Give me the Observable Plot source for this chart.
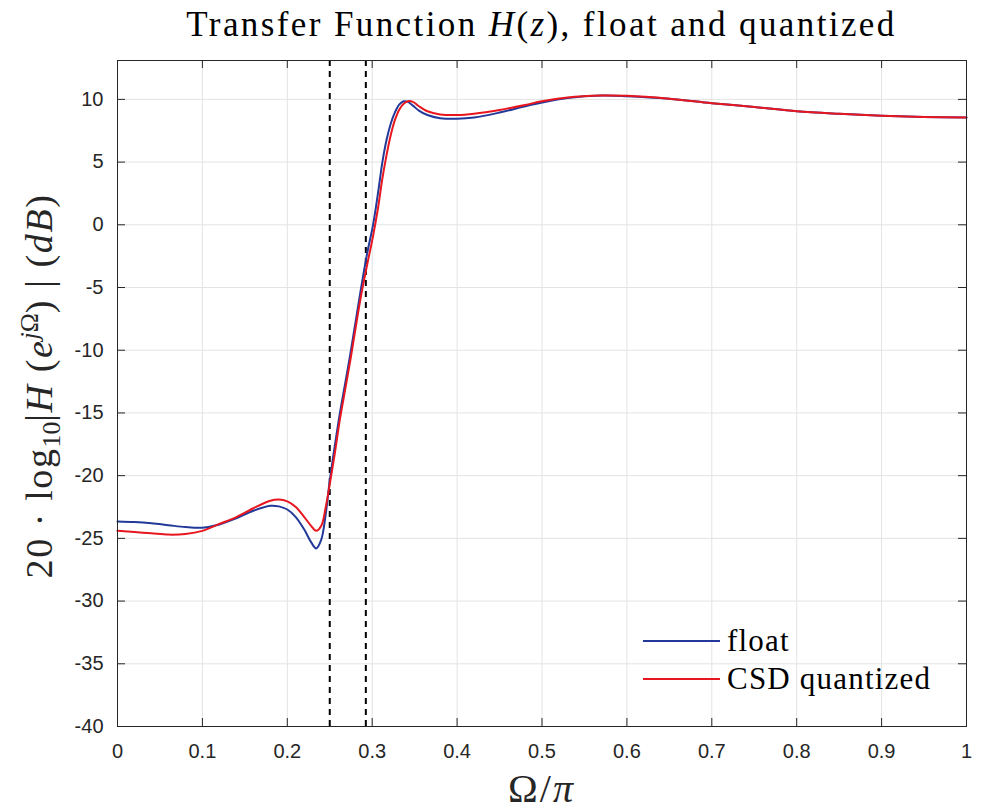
<!DOCTYPE html>
<html><head><meta charset="utf-8">
<script src="https://cdn.jsdelivr.net/npm/d3@7"></script>
<script src="https://cdn.jsdelivr.net/npm/@observablehq/plot@0.6"></script>
<style>
body{margin:0;background:#fff;}
#wrap{position:relative;width:981px;height:812px;overflow:hidden;background:#fff}
#title{position:absolute;left:117px;width:849px;top:5px;text-align:center;font-family:"Liberation Serif","DejaVu Serif",serif;font-size:35px;letter-spacing:2.4px;color:#000;white-space:nowrap;line-height:40px}
#ylab{position:absolute;left:41px;top:386px;transform:translate(-50%,-50%) rotate(-90deg);font-family:"Liberation Serif",serif;font-size:38px;letter-spacing:1.6px;color:#262626;white-space:nowrap;line-height:44px}
#xlab{position:absolute;left:117px;width:849px;top:767px;text-align:center;font-family:"Liberation Serif",serif;font-size:40px;letter-spacing:2px;color:#262626;line-height:44px}
.leg{position:absolute;left:643px;font-family:"Liberation Serif",serif;font-size:31px;letter-spacing:1.2px;color:#000;white-space:nowrap;line-height:32px;display:flex;align-items:center}
.leg span.s{display:inline-block;width:77px;height:0;border-top:2px solid;margin-right:7px}
sub,sup{font-size:68%;letter-spacing:0}
</style>
</head><body>
<div id="wrap">
<div id="chart"></div>
<div id="title">Transfer Function <i>H</i>(<i>z</i>), float and quantized</div>
<div id="ylab">20 · log<sub>10</sub>|<i>H</i> (<i>e</i><sup><i>j</i>Ω</sup>) | (<i>dB</i>)</div>
<div id="xlab">Ω/<i>π</i></div>
<div class="leg" id="leg1" style="top:625px"><span class="s" style="border-color:#22399a"></span>float</div>
<div class="leg" id="leg2" style="top:663px"><span class="s" style="border-color:#e8161e"></span>CSD quantized</div>
</div>
<script>
// normalized frequency Ω/π
const omega = [0, 0.02, 0.04, 0.06, 0.08, 0.10, 0.12, 0.14, 0.16, 0.18, 0.19, 0.20, 0.21, 0.22, 0.228, 0.234, 0.24, 0.245, 0.25, 0.256, 0.262, 0.268, 0.275, 0.281, 0.287, 0.294, 0.301, 0.307, 0.312, 0.317, 0.322, 0.327, 0.332, 0.337, 0.342, 0.348, 0.355, 0.365, 0.38, 0.40, 0.42, 0.45, 0.48, 0.50, 0.53, 0.57, 0.60, 0.65, 0.70, 0.75, 0.80, 0.85, 0.90, 0.95, 1.0];
// float magnitude (dB)
const floatDb = [-23.65, -23.7, -23.8, -23.95, -24.1, -24.15, -23.9, -23.4, -22.8, -22.4, -22.45, -22.7, -23.3, -24.3, -25.3, -25.8, -25.1, -23.2, -20.4, -17.6, -15.0, -12.7, -10.0, -7.5, -5.0, -2.3, 0.0, 2.6, 5.0, 6.8, 8.1, 9.0, 9.6, 9.85, 9.8, 9.5, 9.1, 8.75, 8.5, 8.45, 8.55, 8.95, 9.45, 9.75, 10.1, 10.3, 10.25, 10.05, 9.7, 9.4, 9.05, 8.85, 8.7, 8.6, 8.55];
// CSD quantized magnitude (dB)
const csdDb = [-24.4, -24.5, -24.6, -24.7, -24.65, -24.4, -23.85, -23.3, -22.6, -22.0, -21.9, -22.05, -22.5, -23.3, -24.0, -24.4, -24.0, -22.6, -20.7, -18.2, -15.5, -13.2, -10.5, -8.0, -5.6, -3.2, -0.9, 1.4, 3.7, 5.6, 7.2, 8.4, 9.2, 9.65, 9.85, 9.8, 9.45, 9.05, 8.8, 8.75, 8.85, 9.15, 9.55, 9.85, 10.15, 10.3, 10.28, 10.05, 9.7, 9.4, 9.05, 8.85, 8.7, 8.6, 8.55];
// band edges (dashed lines)
const bandEdges = [0.25, 0.2925];
const xTicks = [0, 0.1, 0.2, 0.3, 0.4, 0.5, 0.6, 0.7, 0.8, 0.9, 1];
const xTickLabels = ["0", "0.1", "0.2", "0.3", "0.4", "0.5", "0.6", "0.7", "0.8", "0.9", "1"];
const yTicks = [-40, -35, -30, -25, -20, -15, -10, -5, 0, 5, 10];
const yTickLabels = ["-40", "-35", "-30", "-25", "-20", "-15", "-10", "-5", "0", "5", "10"];

const W = 981, H = 812, mL = 117, mR = 15, mT = 60, mB = 86;
const pw = W - mL - mR, ph = H - mT - mB, tk = 8;
const floatRows = omega.map((w, i) => ({w, v: floatDb[i]}));
const csdRows = omega.map((w, i) => ({w, v: csdDb[i]}));
const axisColor = "#262626";
const tickFont = "Liberation Sans, Arial, sans-serif";

const chart = Plot.plot({
  width: W, height: H,
  marginLeft: mL, marginRight: mR, marginTop: mT, marginBottom: mB,
  style: {background: "#fff", color: axisColor, fontFamily: tickFont, fontSize: "20px"},
  x: {domain: [0, 1], axis: null},
  y: {domain: [-40, 13.1], axis: null},
  marks: [
    Plot.gridX(xTicks, {stroke: "#e3e3e3", strokeOpacity: 1}),
    Plot.gridY(yTicks, {stroke: "#e3e3e3", strokeOpacity: 1}),
    Plot.ruleX(bandEdges, {stroke: "#000", strokeWidth: 2, strokeDasharray: "6,5"}),
    Plot.line(floatRows, {x: "w", y: "v", stroke: "#22399a", strokeWidth: 2, curve: "catmull-rom"}),
    Plot.line(csdRows, {x: "w", y: "v", stroke: "#e8161e", strokeWidth: 2, curve: "catmull-rom"}),
    // inward ticks on all four sides
    Plot.ruleX(xTicks, {stroke: axisColor, insetTop: ph - tk}),
    Plot.ruleX(xTicks, {stroke: axisColor, insetBottom: ph - tk}),
    Plot.ruleY(yTicks, {stroke: axisColor, insetRight: pw - tk}),
    Plot.ruleY(yTicks, {stroke: axisColor, insetLeft: pw - tk}),
    Plot.axisX(xTicks, {tickSize: 0, tickPadding: 17, tickFormat: d => xTickLabels[xTicks.indexOf(d)], label: null, fontSize: 20, fill: axisColor}),
    Plot.axisY(yTicks, {tickSize: 0, tickPadding: 14, tickFormat: d => yTickLabels[yTicks.indexOf(d)], label: null, fontSize: 20, fill: axisColor}),
    Plot.frame({stroke: axisColor, strokeWidth: 1})
  ]
});
document.getElementById("chart").appendChild(chart);
</script>
</body></html>
